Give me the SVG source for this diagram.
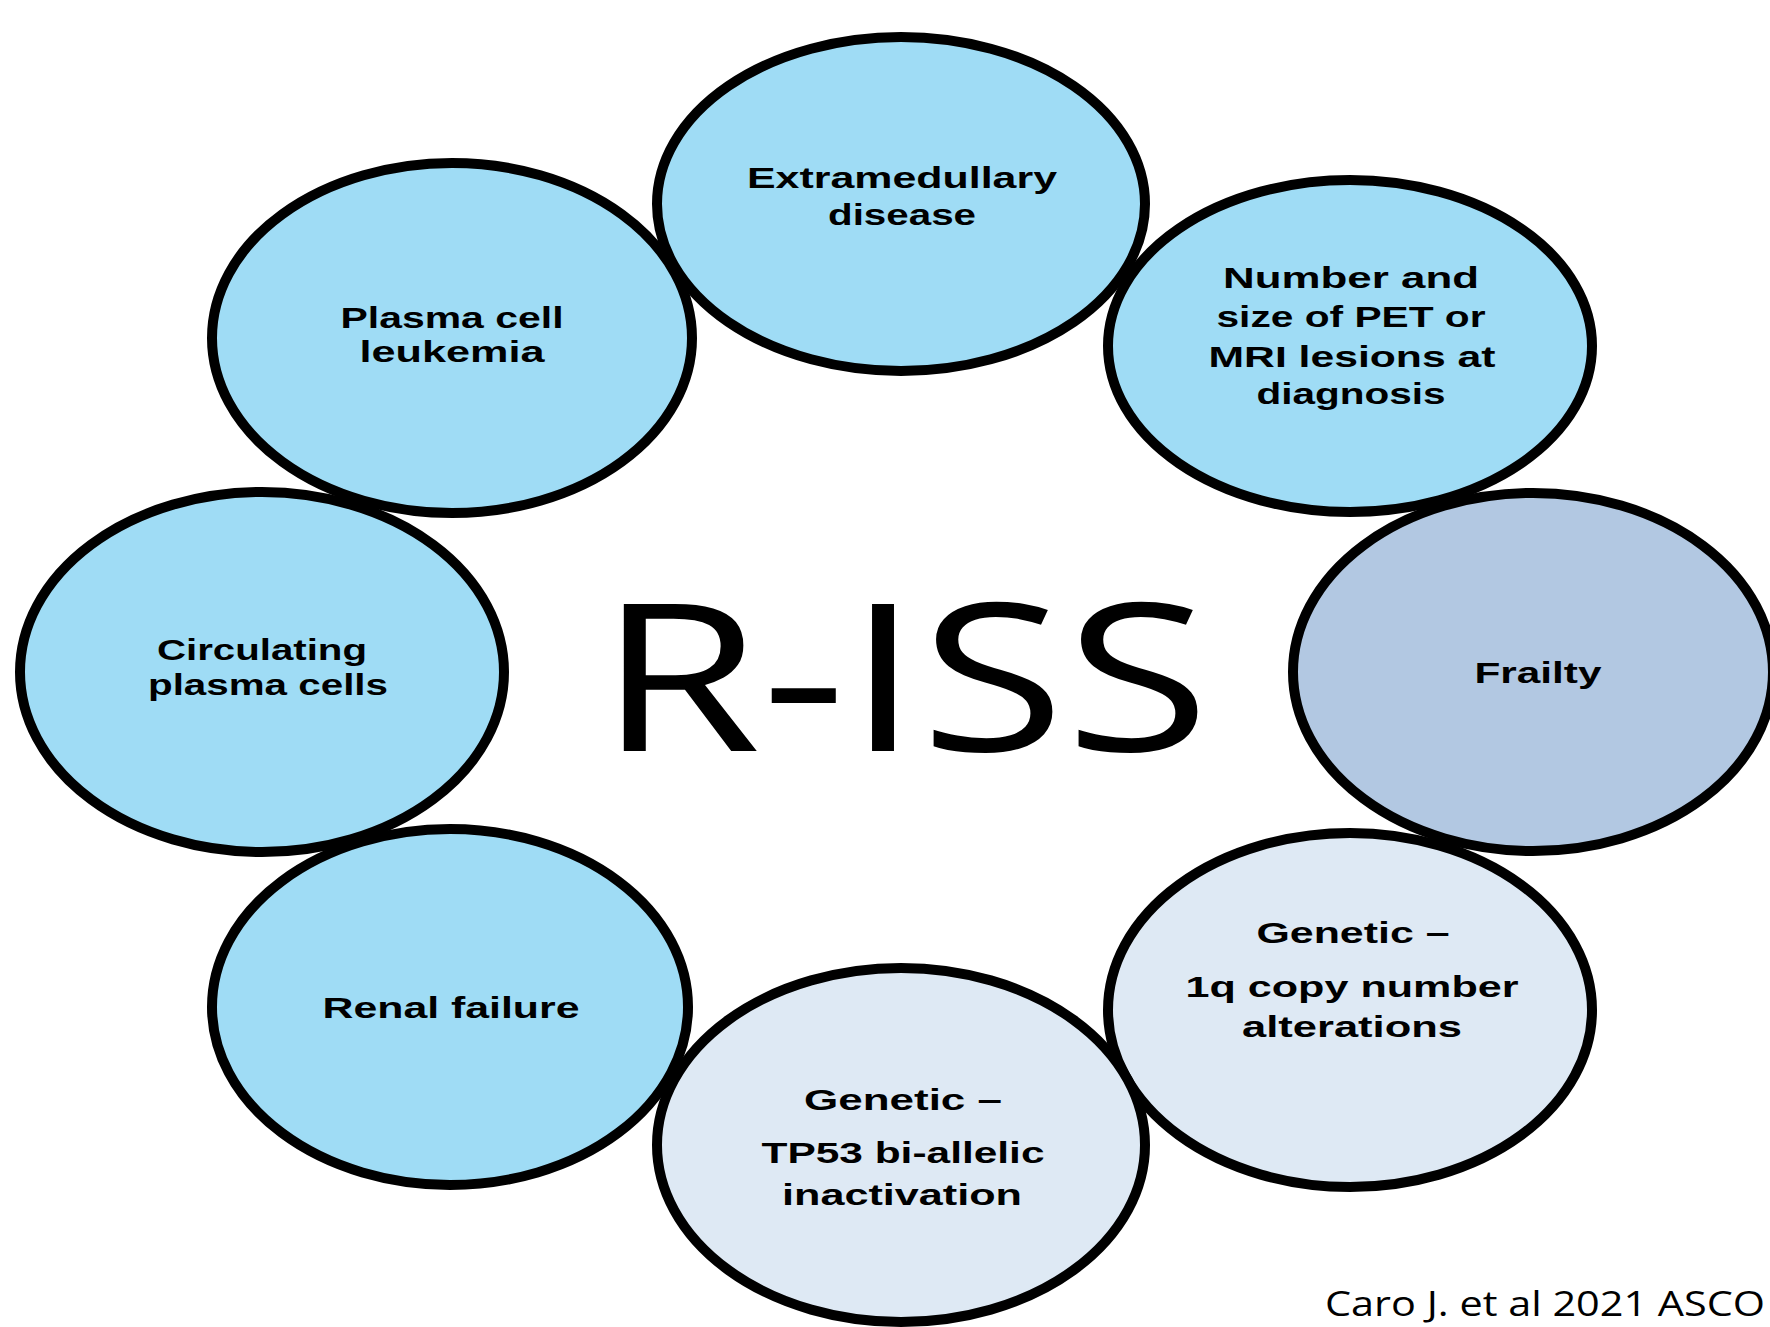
<svg xmlns="http://www.w3.org/2000/svg" width="1770" height="1327" viewBox="0 0 1770 1327">
<style>
.node{stroke:#000;stroke-width:10}
.blue{fill:#9FDCF5}
.frail{fill:#B2C8E2}
.gen{fill:#DEE9F4}
.lbl{font-family:"Liberation Sans","Open Sans",sans-serif;font-weight:bold;font-size:29px;fill:#000;text-anchor:middle}
.title{font-family:"Open Sans","Liberation Sans",sans-serif;font-size:206px;fill:#000}
.cite{font-family:"Open Sans","Liberation Sans",sans-serif;font-size:34px;fill:#000}
</style>
<rect width="1770" height="1327" fill="#fff"/>
<g id="connectors"></g>
<g id="node-plasma-cell-leukemia">
<ellipse class="node blue" cx="452" cy="338" rx="240" ry="175"/>
<text class="lbl" x="452" y="328" textLength="223" lengthAdjust="spacingAndGlyphs">Plasma cell</text>
<text class="lbl" x="452" y="362" textLength="185" lengthAdjust="spacingAndGlyphs">leukemia</text>
</g>
<g id="node-extramedullary">
<ellipse class="node blue" cx="901" cy="204" rx="244" ry="167"/>
<text class="lbl" x="902" y="188" textLength="310" lengthAdjust="spacingAndGlyphs">Extramedullary</text>
<text class="lbl" x="902" y="225" textLength="148" lengthAdjust="spacingAndGlyphs">disease</text>
</g>
<g id="node-number-size">
<ellipse class="node blue" cx="1350" cy="346" rx="242" ry="166"/>
<text class="lbl" x="1351" y="288" textLength="256" lengthAdjust="spacingAndGlyphs">Number and</text>
<text class="lbl" x="1351" y="327" textLength="269" lengthAdjust="spacingAndGlyphs">size of PET or</text>
<text class="lbl" x="1352" y="367" textLength="287" lengthAdjust="spacingAndGlyphs">MRI lesions at</text>
<text class="lbl" x="1351" y="404" textLength="189" lengthAdjust="spacingAndGlyphs">diagnosis</text>
</g>
<g id="node-circulating">
<ellipse class="node blue" cx="262" cy="672" rx="242" ry="180"/>
<text class="lbl" x="262" y="660" textLength="210" lengthAdjust="spacingAndGlyphs">Circulating</text>
<text class="lbl" x="268" y="695" textLength="240" lengthAdjust="spacingAndGlyphs">plasma cells</text>
</g>
<g id="node-renal-failure">
<ellipse class="node blue" cx="450" cy="1007" rx="238" ry="178"/>
<text class="lbl" x="451" y="1018" textLength="257" lengthAdjust="spacingAndGlyphs">Renal failure</text>
</g>
<g id="node-genetic-1q">
<ellipse class="node gen" cx="1350" cy="1010" rx="242" ry="177"/>
<text class="lbl" x="1353" y="943" textLength="193" lengthAdjust="spacingAndGlyphs">Genetic –</text>
<text class="lbl" x="1352" y="997" textLength="333" lengthAdjust="spacingAndGlyphs">1q copy number</text>
<text class="lbl" x="1352" y="1037" textLength="220" lengthAdjust="spacingAndGlyphs">alterations</text>
</g>
<g id="node-frailty">
<ellipse class="node frail" cx="1533" cy="672" rx="240" ry="179"/>
<text class="lbl" x="1538" y="683" textLength="127" lengthAdjust="spacingAndGlyphs">Frailty</text>
</g>
<g id="node-tp53">
<ellipse class="node gen" cx="901" cy="1145" rx="244" ry="177"/>
<text class="lbl" x="903" y="1110" textLength="198" lengthAdjust="spacingAndGlyphs">Genetic –</text>
<text class="lbl" x="903" y="1163" textLength="283" lengthAdjust="spacingAndGlyphs">TP53 bi-allelic</text>
<text class="lbl" x="902" y="1205" textLength="240" lengthAdjust="spacingAndGlyphs">inactivation</text>
</g>
<text id="title" class="title" x="598" y="751" textLength="612" lengthAdjust="spacingAndGlyphs">R-ISS</text>
<text id="citation" class="cite" x="1325" y="1316" textLength="440" lengthAdjust="spacingAndGlyphs">Caro J. et al 2021 ASCO</text>
</svg>
